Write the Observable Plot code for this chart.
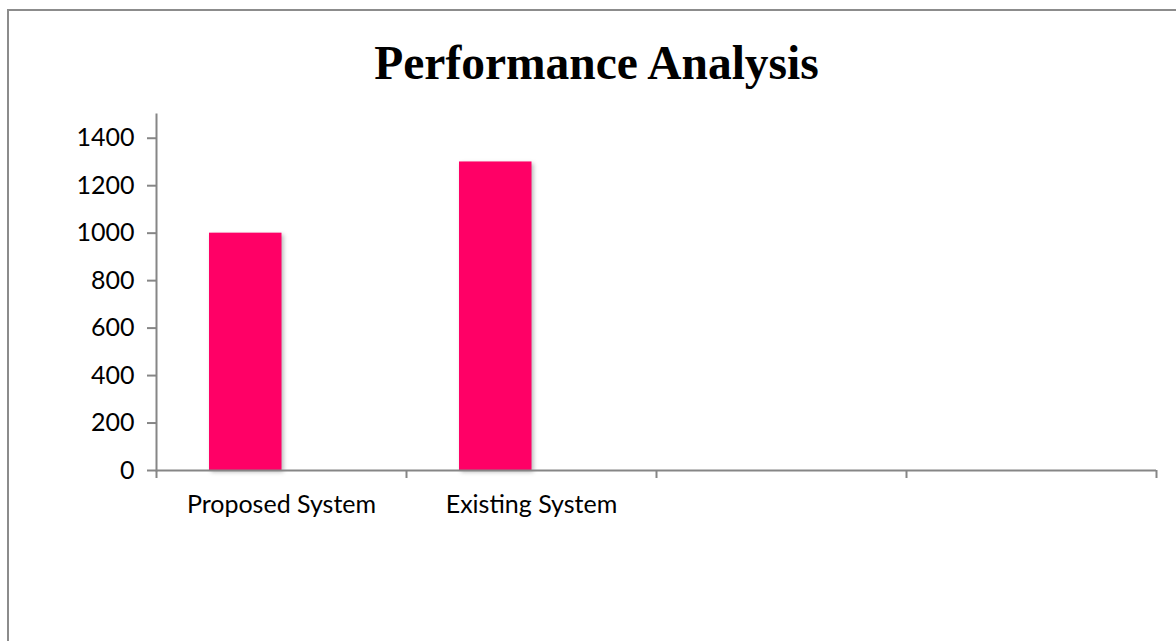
<!DOCTYPE html>
<html>
<head>
<meta charset="utf-8">
<script src="https://cdn.jsdelivr.net/npm/d3@7"></script>
<script src="https://cdn.jsdelivr.net/npm/@observablehq/plot@0.6"></script>
<style>
  html, body { margin: 0; padding: 0; background: #fff; width: 1176px; height: 641px; overflow: hidden; }
  #page { position: relative; width: 1176px; height: 641px; }
  #frame { position: absolute; left: 7px; top: 9px; width: 1400px; height: 800px;
           border-left: 2px solid #8c8c8c; border-top: 2px solid #8c8c8c; box-sizing: border-box; }
  #title { position: absolute; left: 0; width: 1193px; top: 40px; text-align: center;
           font-family: "Liberation Serif", "Times New Roman", serif; font-weight: bold;
           font-size: 47.5px; line-height: 47px; color: #000; }
  #chart { position: absolute; left: 0; top: 100px; }
  #chart g[aria-label="bar"] rect { filter: drop-shadow(2px 2px 2px rgba(0,0,0,0.28)); }
</style>
</head>
<body>
<div id="page">
  <div id="frame"></div>
  <div id="title">Performance Analysis</div>
  <div id="chart"></div>
</div>
<script>
const categories = ["Proposed System", "Existing System", " ", "  "];
const values = [1000, 1300, null, null];
const yTicks = [0, 200, 400, 600, 800, 1000, 1200, 1400];

const data = categories.map((c, i) => ({category: c, value: values[i]}));
const barData = data.filter(d => d.value != null);

const W = 1176, H = 541;
const mL = 156, mR = 20, mT = 14, mB = 171;
const bw = (W - mL - mR) / categories.length;
const plotH = H - mT - mB;
const axisColor = "#868686";

const chart = Plot.plot({
  width: W,
  height: H,
  marginLeft: mL,
  marginRight: mR,
  marginTop: mT,
  marginBottom: mB,
  style: {fontFamily: "Lato, 'Open Sans', sans-serif", fontSize: "25px", color: "#000", background: "transparent", overflow: "visible"},
  x: {domain: categories, padding: 0, label: null},
  y: {domain: [0, 1500], label: null},
  marks: [
    Plot.barY(barData, {x: "category", y: "value", fill: "#FF0066", insetLeft: 53, insetRight: 124.5}),
    Plot.frame({anchor: "left", stroke: axisColor, strokeWidth: 2}),
    Plot.ruleY([0], {stroke: axisColor, strokeWidth: 2}),
    Plot.axisY({ticks: yTicks, tickSize: 9, tickPadding: 13, stroke: axisColor, strokeWidth: 2, fill: "#000", fontSize: 25, label: null, tickFormat: d => String(d)}),
    Plot.axisX({tickSize: 0, tickPadding: 25, fill: "#000", fontSize: 25, label: null}),
    Plot.ruleX(categories, {x: d => d, dx: -bw / 2, insetTop: plotH, insetBottom: -8, stroke: axisColor, strokeWidth: 2}),
    Plot.ruleX(categories.slice(-1), {x: d => d, dx: bw / 2, insetTop: plotH, insetBottom: -8, stroke: axisColor, strokeWidth: 2})
  ]
});
document.getElementById("chart").appendChild(chart);
</script>
</body>
</html>
